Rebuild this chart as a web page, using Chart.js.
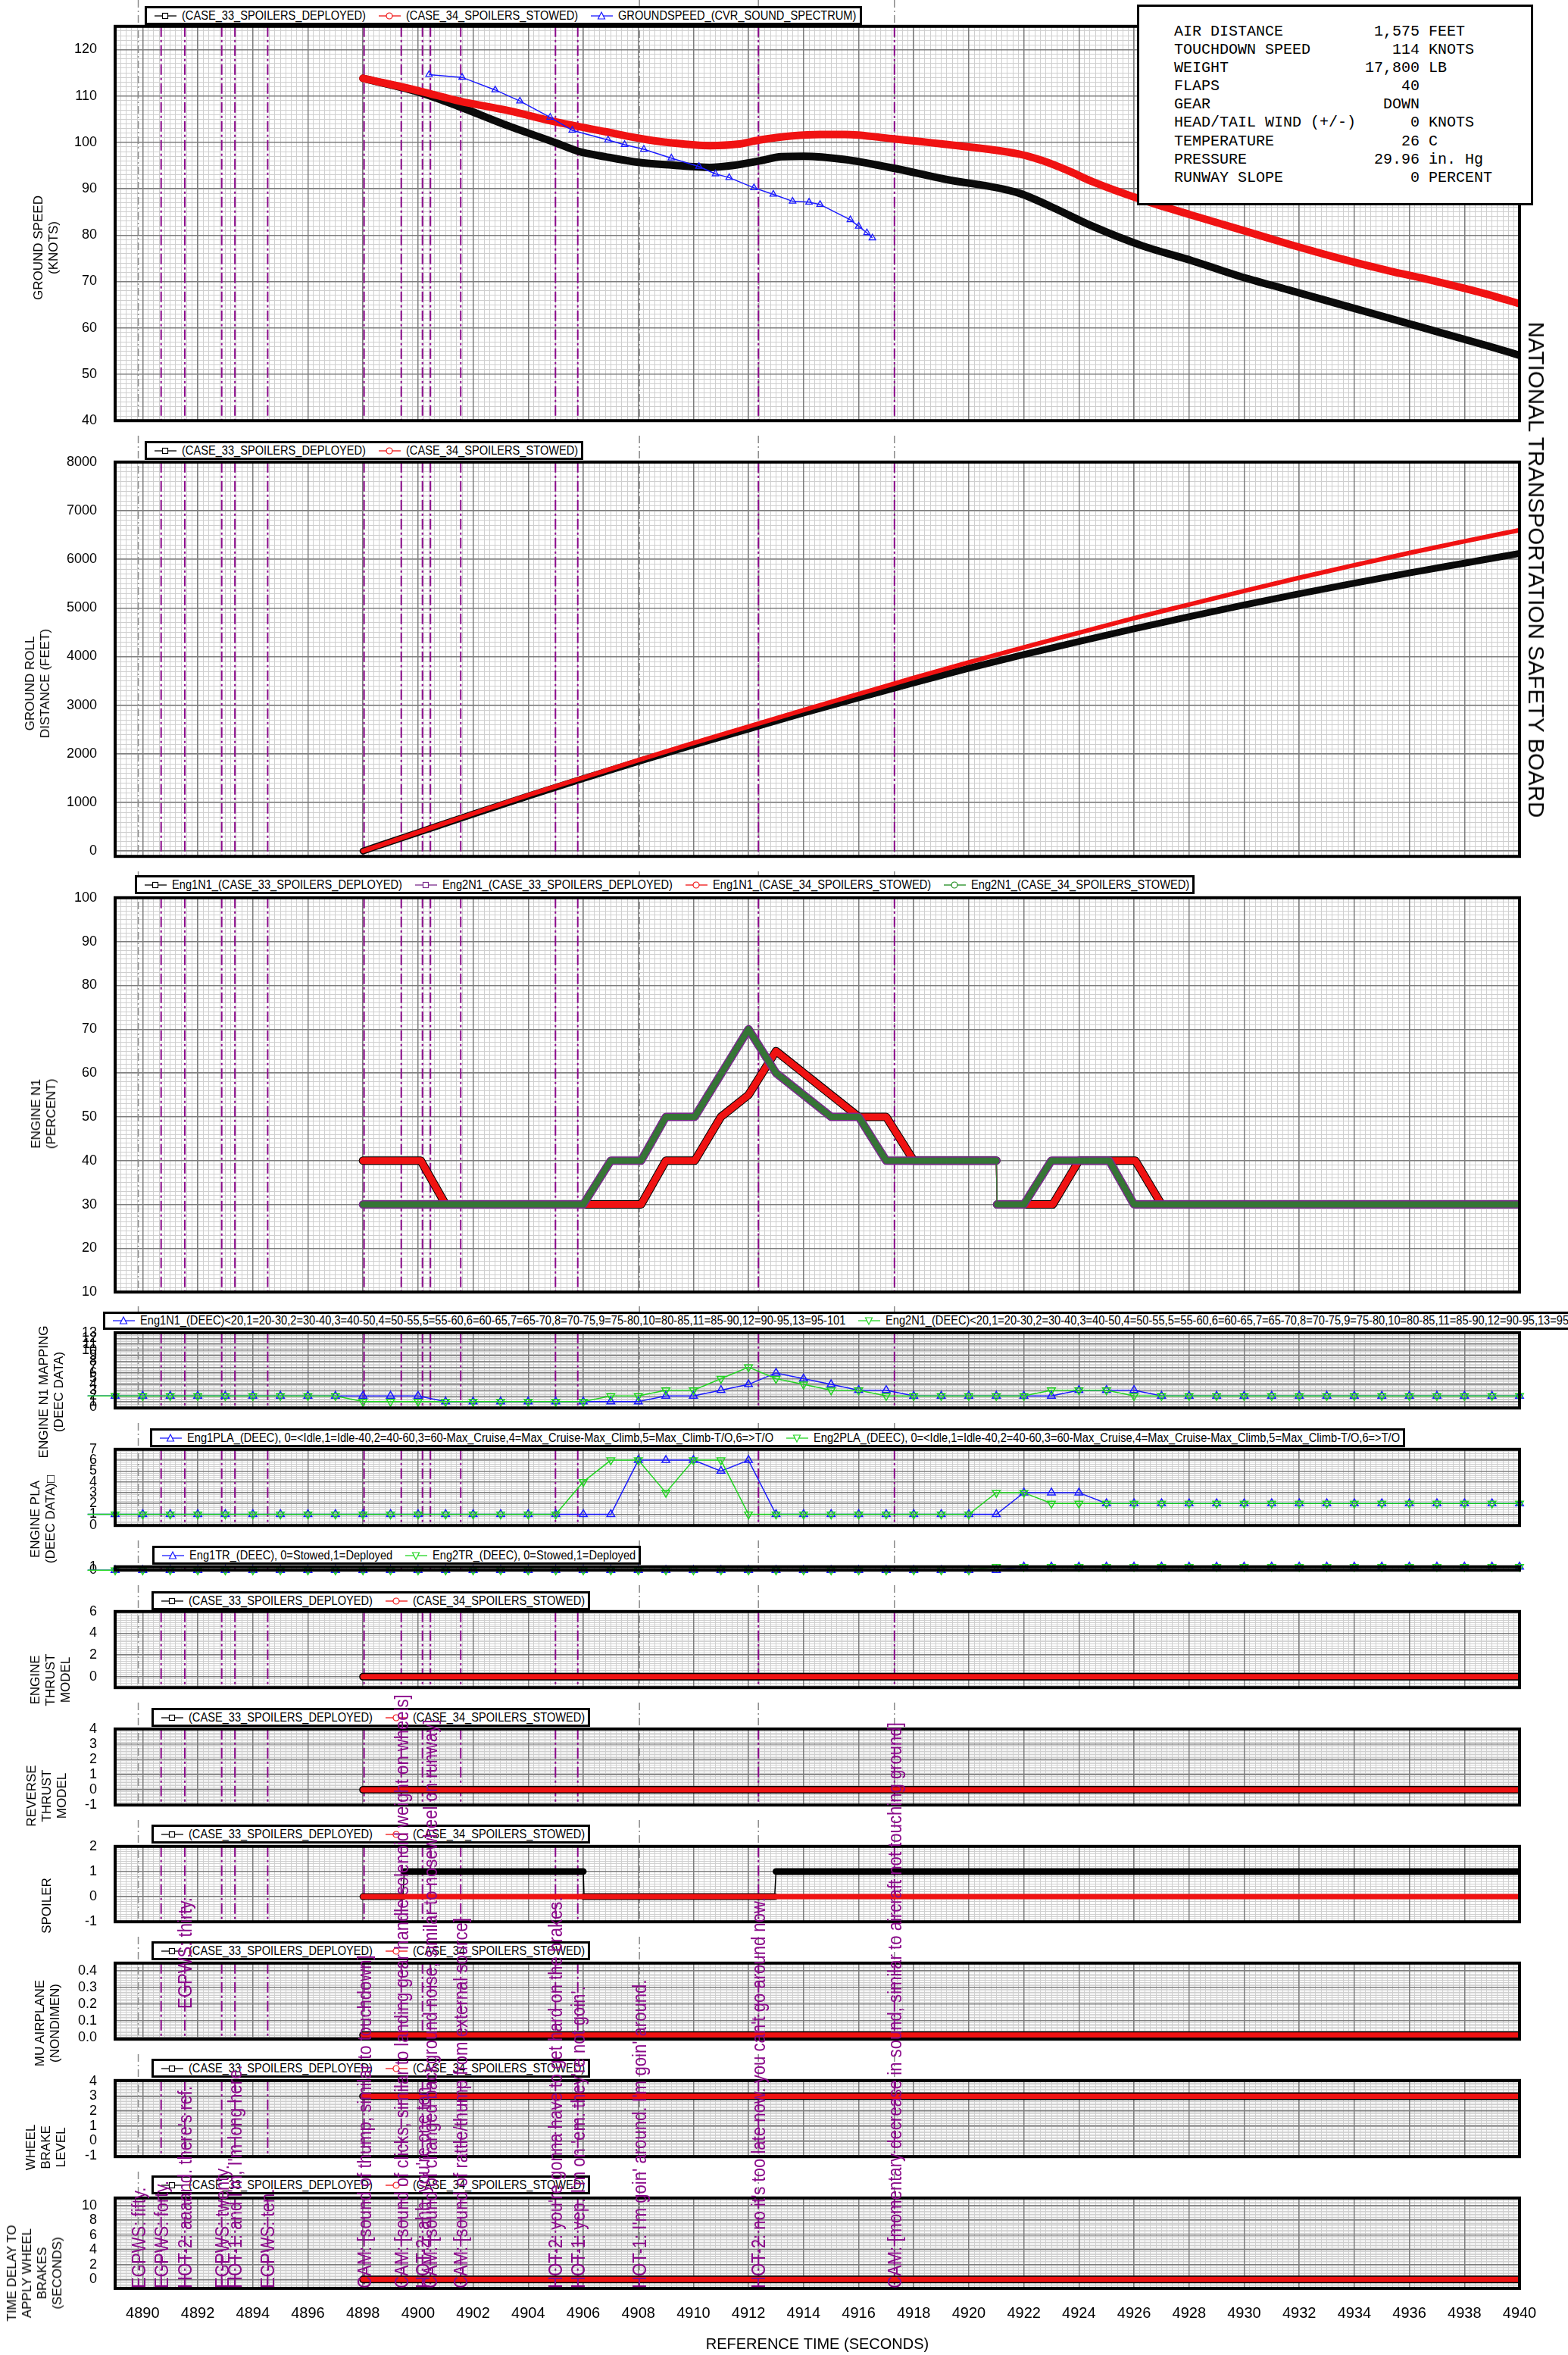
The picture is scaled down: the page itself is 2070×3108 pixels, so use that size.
<!DOCTYPE html>
<html>
<head>
<meta charset="utf-8">
<title>Landing roll study - CASE 33 / CASE 34</title>
<script src="https://cdn.jsdelivr.net/npm/chart.js@4.4.0/dist/chart.umd.min.js"></script>
<style>
  html, body { margin: 0; padding: 0; background: #fff; }
  #page { position: relative; width: 2070px; height: 3108px; overflow: hidden; font-family: "Liberation Sans", Arial, sans-serif; color: #000; }
  #page canvas { position: absolute; left: 0; z-index: 1; }
  .legend { position: absolute; z-index: 4; background: #fff; border: 3px solid #000; box-sizing: border-box; display: flex; align-items: center; white-space: nowrap; font-size: 17px; padding: 0 4px 0 9px; overflow: hidden; }
  .legend .item { display: flex; align-items: center; margin-right: 16px; }
  .legend .item:last-child { margin-right: 0; }
  .legend svg { margin-right: 6px; flex: none; }
  .legend .txt { display: inline-block; white-space: nowrap; }
  .legend .txt > span { display: inline-block; transform: scaleX(0.86); transform-origin: 0 50%; }
  .ytitle { position: absolute; z-index: 3; transform: translate(-50%, -50%) rotate(-90deg); text-align: center; font-size: 17px; line-height: 20px; white-space: nowrap; }
  .cvr { position: absolute; z-index: 6; color: #8b0a8b; font-size: 26px; line-height: 28px; white-space: nowrap; transform-origin: 0 0; transform: rotate(-90deg) scale(0.85, 1) translateY(-50%); }
  #info { position: absolute; z-index: 5; left: 1501px; top: 6px; width: 523px; height: 265px; box-sizing: border-box; border: 3px solid #000; background: #fff; padding: 21px 0 0 46px; font-family: "Liberation Mono", "Courier New", monospace; font-size: 20px; line-height: 24.1px; white-space: pre; }
  #ntsb { position: absolute; z-index: 5; left: 2028px; top: 752px; transform: translate(-50%, -50%) rotate(90deg); font-size: 29.5px; white-space: nowrap; }
</style>
</head>
<body>
<div id="page"></div>
<script>
// ---------------- time axis ----------------
const timeTicks = [4890, 4892, 4894, 4896, 4898, 4900, 4902, 4904, 4906, 4908, 4910, 4912, 4914,
  4916, 4918, 4920, 4922, 4924, 4926, 4928, 4930, 4932, 4934, 4936, 4938, 4940];
const T_MIN = 4889, T_MAX = 4940;

// ---------------- ground speed (knots) ----------------
const gsTime33 = [4898.0, 4900.1, 4901.5, 4903.3, 4905.0, 4905.8, 4906.8, 4908.0, 4909.2, 4910.6, 4911.4, 4912.4, 4913.2, 4914.0,
  4915.5, 4917.2, 4919.1, 4921.8, 4923.0, 4924.5, 4926.3, 4928.1, 4929.8, 4931.6, 4933.4, 4935.2, 4937.0, 4938.8, 4940.0];
const gsKnots33 = [113.8, 110.7, 107.7, 103.5, 99.9, 98.1, 96.9, 95.7, 95.1, 94.6, 95.0, 96.0, 96.9, 97.0,
  96.3, 94.5, 92.1, 89.1, 86.1, 81.9, 77.7, 74.5, 71.2, 68.2, 65.2, 62.2, 59.2, 56.2, 54.1];
const gsTime34 = [4898.0, 4900.1, 4901.5, 4903.3, 4905.0, 4906.8, 4908.1, 4909.2, 4910.6, 4911.6, 4912.4, 4913.6, 4914.6, 4915.5,
  4917.2, 4919.1, 4921.8, 4922.7, 4923.6, 4924.5, 4926.3, 4928.1, 4929.8, 4931.6, 4933.4, 4935.2, 4937.0, 4938.8, 4940.0];
const gsKnots34 = [113.8, 111.0, 108.9, 106.8, 104.4, 102.3, 100.8, 99.9, 99.3, 99.6, 100.5, 101.4, 101.7, 101.7,
  100.8, 99.6, 97.5, 96.0, 93.9, 91.5, 87.6, 84.3, 81.3, 78.1, 75.1, 72.4, 70.0, 67.3, 65.2];
const cvrTime = [4900.4, 4901.6, 4902.8, 4903.7, 4904.8, 4905.6, 4906.9, 4907.5, 4908.2, 4909.2, 4910.2,
  4910.8, 4911.3, 4912.2, 4912.9, 4913.6, 4914.2, 4914.6, 4915.7, 4916.0, 4916.3, 4916.5];
const cvrKnots = [114.6, 114.0, 111.3, 108.9, 105.4, 102.6, 100.5, 99.5, 98.5, 96.6, 94.8,
  93.2, 92.4, 90.2, 88.8, 87.3, 87.1, 86.6, 83.3, 81.9, 80.5, 79.4];

// ---------------- ground roll distance (feet) ----------------
const rollTime = [4898, 4900, 4902, 4904, 4906, 4908, 4910, 4912, 4914, 4916, 4918, 4920, 4922, 4924, 4926, 4928, 4930, 4932, 4934, 4936, 4938, 4940];
const roll33 = [0, 380, 760, 1130, 1490, 1840, 2180, 2510, 2840, 3150, 3460, 3760, 4040, 4310, 4570, 4820, 5060, 5290, 5510, 5720, 5920, 6120];
const roll34 = [0, 385, 770, 1150, 1510, 1870, 2220, 2560, 2900, 3230, 3560, 3880, 4190, 4490, 4790, 5070, 5350, 5620, 5880, 6130, 6370, 6600];

// ---------------- engine N1 (percent) ----------------
const eng1Time = [4898, 4900.1, 4901.0, 4908.1, 4909.0, 4910.05, 4911.0, 4912.0, 4913.0, 4916.0, 4917.0, 4918.0, 4921.0, 4921.03, 4923.05, 4924.0, 4926.05, 4927.0, 4940];
const eng1N1 = [40, 40, 30, 30, 40, 40, 50, 55, 65, 50, 50, 40, 40, 30, 30, 40, 40, 30, 30];
const eng2Time = [4898, 4906.0, 4907.0, 4908.1, 4909.0, 4910.05, 4912.0, 4913.0, 4915.0, 4916.0, 4917.0, 4921.0, 4921.03, 4922.0, 4923.0, 4925.1, 4926.0, 4940];
const eng2N1 = [30, 30, 40, 40, 50, 50, 70, 60, 50, 50, 40, 40, 30, 30, 40, 40, 30, 30];

// ---------------- DEEC recorded data, one sample per second ----------------
const deecTime = [4888, 4889, 4890, 4891, 4892, 4893, 4894, 4895, 4896, 4897, 4898, 4899, 4900, 4901, 4902, 4903, 4904, 4905,
  4906, 4907, 4908, 4909, 4910, 4911, 4912, 4913, 4914, 4915, 4916, 4917, 4918, 4919, 4920, 4921, 4922, 4923, 4924, 4925,
  4926, 4927, 4928, 4929, 4930, 4931, 4932, 4933, 4934, 4935, 4936, 4937, 4938, 4939, 4940, 4941];
const n1Map1 = [2, 2, 2, 2, 2, 2, 2, 2, 2, 2, 2, 2, 2, 1, 1, 1, 1, 1,
  1, 1, 1, 2, 2, 3, 4, 6, 5, 4, 3, 3, 2, 2, 2, 2, 2, 2, 3, 3,
  3, 2, 2, 2, 2, 2, 2, 2, 2, 2, 2, 2, 2, 2, 2, 2];
const n1Map2 = [2, 2, 2, 2, 2, 2, 2, 2, 2, 2, 1, 1, 1, 1, 1, 1, 1, 1,
  1, 2, 2, 3, 3, 5, 7, 5, 4, 3, 3, 2, 2, 2, 2, 2, 2, 3, 3, 3,
  2, 2, 2, 2, 2, 2, 2, 2, 2, 2, 2, 2, 2, 2, 2, 2];
const pla1 = [1, 1, 1, 1, 1, 1, 1, 1, 1, 1, 1, 1, 1, 1, 1, 1, 1, 1,
  1, 1, 6, 6, 6, 5, 6, 1, 1, 1, 1, 1, 1, 1, 1, 1, 3, 3, 3, 2,
  2, 2, 2, 2, 2, 2, 2, 2, 2, 2, 2, 2, 2, 2, 2, 2];
const pla2 = [1, 1, 1, 1, 1, 1, 1, 1, 1, 1, 1, 1, 1, 1, 1, 1, 1, 1,
  4, 6, 6, 3, 6, 6, 1, 1, 1, 1, 1, 1, 1, 1, 1, 3, 3, 2, 2, 2,
  2, 2, 2, 2, 2, 2, 2, 2, 2, 2, 2, 2, 2, 2, 2, 2];
const tr1 = [0, 0, 0, 0, 0, 0, 0, 0, 0, 0, 0, 0, 0, 0, 0, 0, 0, 0,
  0, 0, 0, 0, 0, 0, 0, 0, 0, 0, 0, 0, 0, 0, 0, 0, 1, 1, 1, 1,
  1, 1, 1, 1, 1, 1, 1, 1, 1, 1, 1, 1, 1, 1, 1, 1];
const tr2 = [0, 0, 0, 0, 0, 0, 0, 0, 0, 0, 0, 0, 0, 0, 0, 0, 0, 0,
  0, 0, 0, 0, 0, 0, 0, 0, 0, 0, 0, 0, 0, 0, 0, 1, 1, 1, 1, 1,
  1, 1, 1, 1, 1, 1, 1, 1, 1, 1, 1, 1, 1, 1, 1, 1];

// ---------------- model states ----------------
const modelTime = [4898, 4940];
const thrustModel = [0, 0];
const reverseModel = [0, 0];
const spoilerTime33 = [4898, 4899.45, 4899.5, 4906.0, 4906.03, 4912.95, 4913.0, 4940];
const spoiler33 = [0, 0, 1, 1, 0, 0, 1, 1];
const spoiler34 = [0, 0];
const muAirplane = [0.015, 0.015];
const brakeLevel = [3, 3];
const brakeDelay = [0, 0];

// ---------------- CVR events ----------------
const cvrEventTime = [4889.84, 4890.67, 4891.53, 4891.53, 4892.87, 4893.35, 4894.54, 4898.04, 4899.39, 4900.16,
  4900.45, 4901.55, 4904.99, 4905.80, 4908.04, 4912.36, 4917.30];
const cvrEventText = [
  'EGPWS: fifty.',
  'EGPWS: forty.',
  "HOT-2: aaaand. there's ref.",
  'EGPWS: thirty.',
  'EGPWS: twenty.',
  "HOT-1: and I'm, I'm long here.",
  'EGPWS: ten.',
  'CAM: [sound of thump, similar to touchdown]',
  'CAM: [sound of clicks, similar to landing gear handle solenoid weight on wheels]',
  "HOT-2: ahh, you're one ten.",
  'CAM: [sound of changed background noise, similar to nosewheel on runway]',
  'CAM: [sound of rattle/thump from external source]',
  "HOT-2: you're gonna have to get hard on the brakes.",
  "HOT-1: yep. I'm on 'em. they're not goin'.",
  "HOT-1: I'm goin' around. I'm goin' around.",
  "HOT-2: no it's too late now. you can't go around now.",
  'CAM: [momentary decrease in sound, similar to aircraft not touching ground]'
];
const cvrEventLift = [0, 0, 0, 369, 0, 0, 0, 0, 0, 0, 0, 0, 0, 0, 0, 0, 0];
const cvrLineTime = [4890.67, 4891.53, 4892.87, 4893.35, 4894.54, 4898.04, 4899.39, 4900.16, 4900.45, 4901.55,
  4904.99, 4905.80, 4912.36, 4917.30];
const timeMarkTime = [4889.84, 4908.04, 4912.36, 4917.30];

// ---------------- run conditions ----------------
const infoLabels = ['AIR DISTANCE', 'TOUCHDOWN SPEED', 'WEIGHT', 'FLAPS', 'GEAR', 'HEAD/TAIL WIND (+/-)', 'TEMPERATURE', 'PRESSURE', 'RUNWAY SLOPE'];
const infoValues = ['1,575', '114', '17,800', '40', 'DOWN', '0', '26', '29.96', '0'];
const infoUnits = ['FEET', 'KNOTS', 'LB', '', '', 'KNOTS', 'C', 'in. Hg', 'PERCENT'];

// ---------------- page geometry ----------------
const PAGE_W = 2070, PLOT_RIGHT = 2006, Y_AXIS_W = 152;
const LEGEND_SQUEEZE = 0.86;
const page = document.getElementById('page');
Chart.defaults.font.family = '"Liberation Sans", Arial, sans-serif';
Chart.defaults.color = '#000';

const pts = (xs, ys) => xs.map((x, i) => ({x, y: ys[i]}));
// vertical jumps are drawn with a hairline
const thinJumps = w => ({borderWidth: c => Math.abs(c.p1.parsed.x - c.p0.parsed.x) < 0.1 ? w : undefined});

const heavy = (color, width, order, curved) => ({
  borderColor: color, backgroundColor: color, borderWidth: width, pointRadius: 0, order,
  borderCapStyle: 'round', borderJoinStyle: 'round',
  cubicInterpolationMode: curved ? 'monotone' : 'default', tension: 0
});
const deecLine = (color, down, order) => ({
  borderColor: color, borderWidth: 1.5, pointStyle: 'triangle', pointRotation: down ? 180 : 0,
  pointRadius: 6, pointBorderColor: color, pointBackgroundColor: 'rgba(255,255,255,0)', pointBorderWidth: 1.5,
  order, clip: false, tension: 0
});

const panelDecor = {
  id: 'panelDecor',
  beforeDatasetsDraw(chart) {
    const {ctx, chartArea: a} = chart;
    const x = chart.scales.x;
    ctx.save();
    ctx.lineWidth = 1.5;
    ctx.strokeStyle = '#8a8a8a';
    ctx.setLineDash([10, 4, 2, 4]);
    timeMarkTime.forEach(t => {
      const px = x.getPixelForValue(t);
      ctx.beginPath(); ctx.moveTo(px, 0); ctx.lineTo(px, a.bottom); ctx.stroke();
    });
    ctx.strokeStyle = '#8b0a8b';
    ctx.lineWidth = 2;
    ctx.setLineDash([14, 4, 3, 4]);
    cvrLineTime.forEach(t => {
      const px = x.getPixelForValue(t);
      ctx.beginPath(); ctx.moveTo(px, a.top); ctx.lineTo(px, a.bottom); ctx.stroke();
    });
    ctx.restore();
  },
  afterDatasetsDraw(chart) {
    const {ctx, chartArea: a} = chart;
    ctx.save();
    ctx.lineWidth = 4;
    ctx.strokeStyle = '#000';
    ctx.strokeRect(a.left, a.top, a.right - a.left, a.bottom - a.top);
    ctx.restore();
  }
};

const charts = [];
function panel(p) {
  const cv = document.createElement('canvas');
  cv.width = PAGE_W;
  cv.height = p.canvasBottom - p.canvasTop;
  cv.style.top = p.canvasTop + 'px';
  page.appendChild(cv);
  const last = !!p.timeAxis;
  const minorGrid = {color: '#cfcfcf', lineWidth: 1, drawTicks: false, z: -2};
  const chart = new Chart(cv, {
    type: 'line',
    data: {datasets: p.datasets},
    options: {
      responsive: false, animation: false, events: [],
      layout: {padding: {left: 0, right: PAGE_W - PLOT_RIGHT, top: p.plotTop - p.canvasTop, bottom: last ? 0 : p.canvasBottom - p.plotBottom}},
      plugins: {legend: {display: false}, tooltip: {enabled: false}},
      scales: {
        xMinor: {type: 'linear', position: 'bottom', min: T_MIN, max: T_MAX,
          ticks: {display: false, stepSize: 0.2, autoSkip: false}, grid: minorGrid, border: {display: false}},
        yMinor: {type: 'linear', position: 'left', min: p.yMin, max: p.yMax,
          ticks: {display: false, stepSize: p.minorStep, autoSkip: false}, grid: minorGrid, border: {display: false}},
        x: {type: 'linear', position: 'bottom', min: T_MIN, max: T_MAX,
          afterBuildTicks: s => { s.ticks = timeTicks.map(v => ({value: v})); },
          ticks: {display: last, autoSkip: false, maxRotation: 0, padding: 21, font: {size: 20}, callback: v => String(v)},
          grid: {color: '#7d7d7d', lineWidth: 1.5, drawTicks: false},
          border: {display: false},
          title: {display: last, text: 'REFERENCE TIME (SECONDS)', font: {size: 20}, padding: {top: 0, bottom: 2}},
          afterFit: s => { if (last) s.height = p.canvasBottom - p.plotBottom; }},
        y: {type: 'linear', position: 'left', min: p.yMin, max: p.yMax,
          afterBuildTicks: s => { s.ticks = p.yTicks.map(v => ({value: v})); },
          ticks: {autoSkip: false, padding: 24, font: {size: 18}, callback: p.yFormat || (v => String(v))},
          grid: {color: '#7d7d7d', lineWidth: 1.5, drawTicks: false},
          border: {display: false},
          afterFit: s => { s.width = Y_AXIS_W; }}
      }
    },
    plugins: [panelDecor]
  });
  charts.push(chart);
  return chart;
}

const case33 = ys => Object.assign({label: '(CASE_33_SPOILERS_DEPLOYED)', data: pts(modelTime, ys)}, heavy('#000', 10, 1));
const case34 = ys => Object.assign({label: '(CASE_34_SPOILERS_STOWED)', data: pts(modelTime, ys)}, heavy('#f01212', 7, 0));

// 1 ground speed
panel({canvasTop: 0, canvasBottom: 590, plotTop: 32, plotBottom: 575, yMin: 40, yMax: 125, minorStep: 1,
  yTicks: [40, 50, 60, 70, 80, 90, 100, 110, 120],
  datasets: [
    Object.assign({label: 'GROUNDSPEED_(CVR_SOUND_SPECTRUM)', data: pts(cvrTime, cvrKnots)},
      {borderColor: '#1a1aff', borderWidth: 1.5, pointStyle: 'triangle', pointRadius: 5, pointBorderColor: '#1a1aff',
       pointBackgroundColor: 'rgba(255,255,255,0)', pointBorderWidth: 1.3, order: 0, tension: 0}),
    Object.assign({label: '(CASE_34_SPOILERS_STOWED)', data: pts(gsTime34, gsKnots34)}, heavy('#f01212', 10, 1, true)),
    Object.assign({label: '(CASE_33_SPOILERS_DEPLOYED)', data: pts(gsTime33, gsKnots33)}, heavy('#0a0a0a', 10, 2, true))
  ]});

// 2 ground roll distance
panel({canvasTop: 575, canvasBottom: 1165, plotTop: 606, plotBottom: 1150, yMin: -110, yMax: 8000, minorStep: 100,
  yTicks: [0, 1000, 2000, 3000, 4000, 5000, 6000, 7000, 8000],
  datasets: [
    Object.assign({label: '(CASE_34_SPOILERS_STOWED)', data: pts(rollTime, roll34)}, heavy('#f01212', 6, 0, true)),
    Object.assign({label: '(CASE_33_SPOILERS_DEPLOYED)', data: pts(rollTime, roll33)}, heavy('#0a0a0a', 9, 1, true))
  ]});

// 3 engine N1
panel({canvasTop: 1150, canvasBottom: 1740, plotTop: 1178, plotBottom: 1724, yMin: 10, yMax: 100, minorStep: 1,
  yTicks: [10, 20, 30, 40, 50, 60, 70, 80, 90, 100],
  datasets: [
    Object.assign({label: 'Eng2N1_(CASE_34_SPOILERS_STOWED)', data: pts(eng2Time, eng2N1), segment: thinJumps(1.5)}, heavy('#357535', 8, 0)),
    Object.assign({label: 'Eng2N1_(CASE_33_SPOILERS_DEPLOYED)', data: pts(eng2Time, eng2N1), segment: thinJumps(1.5)}, heavy('#7a2a8c', 11, 1)),
    Object.assign({label: 'Eng1N1_(CASE_34_SPOILERS_STOWED)', data: pts(eng1Time, eng1N1), segment: thinJumps(1.5)}, heavy('#f01212', 9, 2)),
    Object.assign({label: 'Eng1N1_(CASE_33_SPOILERS_DEPLOYED)', data: pts(eng1Time, eng1N1), segment: thinJumps(1.5)}, heavy('#000', 11, 3))
  ]});

// 4 N1 mapping (DEEC)
panel({canvasTop: 1724, canvasBottom: 1893, plotTop: 1753, plotBottom: 1878, yMin: -0.1, yMax: 13, minorStep: 0.25,
  yTicks: [0, 1, 2, 3, 4, 5, 6, 7, 8, 9, 10, 11, 12, 13],
  datasets: [
    Object.assign({label: 'Eng2N1_(DEEC)', data: pts(deecTime, n1Map2)}, deecLine('#22d622', true, 0)),
    Object.assign({label: 'Eng1N1_(DEEC)', data: pts(deecTime, n1Map1)}, deecLine('#1a1aff', false, 1))
  ]});

// 5 PLA (DEEC)
panel({canvasTop: 1878, canvasBottom: 2048, plotTop: 1908, plotBottom: 2033, yMin: -0.03, yMax: 7, minorStep: 0.2,
  yTicks: [0, 1, 2, 3, 4, 5, 6, 7],
  datasets: [
    Object.assign({label: 'Eng2PLA_(DEEC)', data: pts(deecTime, pla2)}, deecLine('#22d622', true, 0)),
    Object.assign({label: 'Eng1PLA_(DEEC)', data: pts(deecTime, pla1)}, deecLine('#1a1aff', false, 1))
  ]});

// 6 thrust reverser (DEEC)
panel({canvasTop: 2033, canvasBottom: 2107, plotTop: 2063, plotBottom: 2092, yMin: 0, yMax: 1, minorStep: 1,
  yTicks: [0, 1],
  datasets: [
    Object.assign({label: 'Eng2TR_(DEEC)', data: pts(deecTime, tr2)}, deecLine('#22d622', true, 0)),
    Object.assign({label: 'Eng1TR_(DEEC)', data: pts(deecTime, tr1)}, deecLine('#1a1aff', false, 1))
  ]});

// 7 engine thrust model
panel({canvasTop: 2092, canvasBottom: 2262, plotTop: 2122, plotBottom: 2247, yMin: -1, yMax: 6, minorStep: 0.2,
  yTicks: [0, 2, 4, 6],
  datasets: [case34(thrustModel), case33(thrustModel)]});

// 8 reverse thrust model
panel({canvasTop: 2247, canvasBottom: 2417, plotTop: 2277, plotBottom: 2402, yMin: -1, yMax: 4, minorStep: 0.1,
  yTicks: [-1, 0, 1, 2, 3, 4],
  datasets: [case34(reverseModel), case33(reverseModel)]});

// 9 spoiler
panel({canvasTop: 2402, canvasBottom: 2571, plotTop: 2430, plotBottom: 2556, yMin: -1, yMax: 2, minorStep: 0.1,
  yTicks: [-1, 0, 1, 2],
  datasets: [
    case34(spoiler34),
    Object.assign({label: '(CASE_33_SPOILERS_DEPLOYED)', data: pts(spoilerTime33, spoiler33), segment: thinJumps(1.5)}, heavy('#000', 9, 1))
  ]});

// 10 mu airplane
panel({canvasTop: 2556, canvasBottom: 2726, plotTop: 2585, plotBottom: 2711, yMin: -0.01, yMax: 0.445, minorStep: 0.01,
  yTicks: [0, 0.1, 0.2, 0.3, 0.4], yFormat: v => v.toFixed(1),
  datasets: [case34(muAirplane), case33(muAirplane)]});

// 11 wheel brake level
panel({canvasTop: 2711, canvasBottom: 2881, plotTop: 2740, plotBottom: 2866, yMin: -1.05, yMax: 4.05, minorStep: 0.1,
  yTicks: [-1, 0, 1, 2, 3, 4],
  datasets: [case34(brakeLevel), case33(brakeLevel)]});

// 12 time delay to apply wheel brakes (carries the time axis)
const bottomChart = panel({canvasTop: 2866, canvasBottom: 3108, plotTop: 2894, plotBottom: 3020, yMin: -1.2, yMax: 11, minorStep: 0.2,
  yTicks: [0, 2, 4, 6, 8, 10], timeAxis: true,
  datasets: [case34(brakeDelay), case33(brakeDelay)]});

// ---------------- legends ----------------
const esc = s => s.replace(/&/g, '&amp;').replace(/</g, '&lt;').replace(/>/g, '&gt;');
const measure = document.createElement('canvas').getContext('2d');
measure.font = '17px "Liberation Sans", Arial, sans-serif';
// legend captions use a horizontally squeezed face
function caption(text) {
  const w = measure.measureText(text).width * LEGEND_SQUEEZE;
  return `<span class="txt" style="width:${w.toFixed(1)}px"><span>${esc(text)}</span></span>`;
}
function marker(shape, color) {
  let s = '';
  if (shape === 'rect') s = `<rect x="11.5" y="5.5" width="7" height="7" fill="#fff" stroke="${color}" stroke-width="1.2"/>`;
  if (shape === 'circle') s = `<circle cx="15" cy="9" r="4" fill="#fff" stroke="${color}" stroke-width="1.2"/>`;
  if (shape === 'up') s = `<path d="M15 4 L19.5 13 L10.5 13 Z" fill="#fff" stroke="${color}" stroke-width="1.2"/>`;
  if (shape === 'down') s = `<path d="M10.5 5 L19.5 5 L15 14 Z" fill="#fff" stroke="${color}" stroke-width="1.2"/>`;
  return `<svg width="31" height="18" viewBox="0 0 31 18"><line x1="1" y1="9" x2="30" y2="9" stroke="${color}" stroke-width="1.3"/>${s}</svg>`;
}
function legend(left, top, height, items, width) {
  const d = document.createElement('div');
  d.className = 'legend';
  Object.assign(d.style, {left: left + 'px', top: top + 'px', height: height + 'px'});
  if (width) d.style.width = width + 'px';
  d.innerHTML = items.map(it => `<span class="item">${marker(it[0], it[1])}${caption(it[2])}</span>`).join('');
  page.appendChild(d);
}
const CASE_ITEMS = [['rect', '#000', '(CASE_33_SPOILERS_DEPLOYED)'], ['circle', '#f01212', '(CASE_34_SPOILERS_STOWED)']];
const N1_BANDS = '<20,1=20-30,2=30-40,3=40-50,4=50-55,5=55-60,6=60-65,7=65-70,8=70-75,9=75-80,10=80-85,11=85-90,12=90-95,13=95-101';
const PLA_BANDS = ', 0=<Idle,1=Idle-40,2=40-60,3=60-Max_Cruise,4=Max_Cruise-Max_Climb,5=Max_Climb-T/O,6=>T/O';

legend(191, 8, 25, CASE_ITEMS.concat([['up', '#1a1aff', 'GROUNDSPEED_(CVR_SOUND_SPECTRUM)']]));
legend(191, 582, 25, CASE_ITEMS);
legend(178, 1155, 25, [['rect', '#000', 'Eng1N1_(CASE_33_SPOILERS_DEPLOYED)'], ['rect', '#7a2a8c', 'Eng2N1_(CASE_33_SPOILERS_DEPLOYED)'],
  ['circle', '#f01212', 'Eng1N1_(CASE_34_SPOILERS_STOWED)'], ['circle', '#1e8c1e', 'Eng2N1_(CASE_34_SPOILERS_STOWED)']]);
legend(136, 1731, 24, [['up', '#1a1aff', 'Eng1N1_(DEEC)' + N1_BANDS], ['down', '#22d622', 'Eng2N1_(DEEC)' + N1_BANDS]], 2000);
legend(198, 1885, 25, [['up', '#1a1aff', 'Eng1PLA_(DEEC)' + PLA_BANDS], ['down', '#22d622', 'Eng2PLA_(DEEC)' + PLA_BANDS]]);
legend(201, 2040, 25, [['up', '#1a1aff', 'Eng1TR_(DEEC), 0=Stowed,1=Deployed'], ['down', '#22d622', 'Eng2TR_(DEEC), 0=Stowed,1=Deployed']]);
[2100, 2254, 2408, 2562, 2717, 2871].forEach(top => legend(200, top, 25, CASE_ITEMS));

// ---------------- axis titles ----------------
const yTitles = [
  [['GROUND SPEED', '(KNOTS)'], 61, 327],
  [['GROUND ROLL', 'DISTANCE (FEET)'], 50, 902],
  [['ENGINE N1', '(PERCENT)'], 58, 1470],
  [['ENGINE N1 MAPPING', '(DEEC DATA)'], 68, 1837],
  [['ENGINE PLA', '(DEEC DATA)\u25A1'], 57, 2005],
  [['ENGINE', 'THRUST', 'MODEL'], 67, 2217],
  [['REVERSE', 'THRUST', 'MODEL'], 62, 2370],
  [['SPOILER'], 62, 2515],
  [['MU AIRPLANE', '(NONDIMEN)'], 63, 2670],
  [['WHEEL', 'BRAKE', 'LEVEL'], 61, 2834],
  [['TIME DELAY TO', 'APPLY WHEEL', 'BRAKES', '(SECONDS)'], 46, 3000]
];
yTitles.forEach(([lines, cx, cy]) => {
  const d = document.createElement('div');
  d.className = 'ytitle';
  d.style.left = cx + 'px';
  d.style.top = cy + 'px';
  lines.forEach((l, i) => { if (i) d.appendChild(document.createElement('br')); d.appendChild(document.createTextNode(l)); });
  page.appendChild(d);
});

// ---------------- run conditions box ----------------
const info = document.createElement('div');
info.id = 'info';
info.textContent = infoLabels.map((l, i) => {
  const v = infoValues[i];
  return l.padEnd(27 - v.length) + v + (infoUnits[i] ? ' ' + infoUnits[i] : '');
}).join('\n');
page.appendChild(info);

const ntsb = document.createElement('div');
ntsb.id = 'ntsb';
ntsb.textContent = 'NATIONAL TRANSPORTATION SAFETY BOARD';
page.appendChild(ntsb);

// ---------------- CVR transcript along the event lines ----------------
const tx = bottomChart.scales.x;
const textBase = 2866 + bottomChart.chartArea.bottom;
cvrEventTime.forEach((t, i) => {
  const d = document.createElement('div');
  d.className = 'cvr';
  d.textContent = cvrEventText[i];
  d.style.left = tx.getPixelForValue(t) + 'px';
  d.style.top = (textBase - cvrEventLift[i]) + 'px';
  page.appendChild(d);
});
</script>
</body>
</html>
